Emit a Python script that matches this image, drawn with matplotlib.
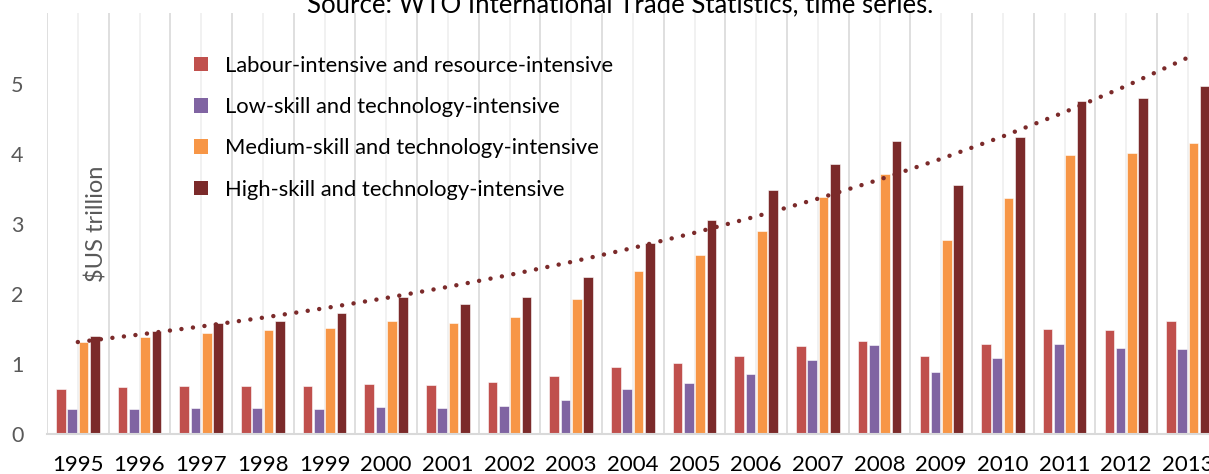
import numpy as np
import matplotlib
matplotlib.use("Agg")
from matplotlib import pyplot as plt
from matplotlib.patches import Patch

plt.rcParams['font.family'] = ['Lato', 'DejaVu Sans']

# values ($US trillion)
years = [1995, 1996, 1997, 1998, 1999, 2000, 2001, 2002, 2003, 2004,
         2005, 2006, 2007, 2008, 2009, 2010, 2011, 2012, 2013]
labour = [0.64, 0.67, 0.69, 0.68, 0.69, 0.72, 0.70, 0.74, 0.83, 0.95,
          1.01, 1.11, 1.25, 1.33, 1.12, 1.29, 1.50, 1.49, 1.62]
low_skill = [0.36, 0.36, 0.37, 0.37, 0.35, 0.39, 0.37, 0.40, 0.48, 0.64,
             0.73, 0.86, 1.06, 1.27, 0.88, 1.08, 1.28, 1.23, 1.21]
medium_skill = [1.31, 1.39, 1.44, 1.48, 1.51, 1.61, 1.58, 1.67, 1.93, 2.32,
                2.56, 2.90, 3.39, 3.71, 2.77, 3.37, 3.98, 4.01, 4.15]
high_skill = [1.40, 1.47, 1.59, 1.61, 1.73, 1.95, 1.85, 1.96, 2.24, 2.73,
              3.05, 3.49, 3.85, 4.18, 3.55, 4.24, 4.75, 4.79, 4.97]

series_names = ['Labour-intensive and resource-intensive',
                'Low-skill and technology-intensive',
                'Medium-skill and technology-intensive',
                'High-skill and technology-intensive']
series_colors = ['#C0504D', '#8064A2', '#F79646', '#7B2A2A']
series_values = [labour, low_skill, medium_skill, high_skill]

W, H = 1209, 474
cat_px = 61.67  # width of one year category in pixels
fig = plt.figure(figsize=(W / 100, H / 100), dpi=100)
# axes: left edge x=47, bottom y=434, top y=13; right runs past the figure edge
ax_w = cat_px * len(years)
ax = fig.add_axes([47 / W, 1 - 434 / H, ax_w / W, (434 - 13) / H])

x = np.arange(len(years))
step = 0.183
width = 0.155
for k, (name, vals, col) in enumerate(zip(series_names, series_values, series_colors)):
    ax.bar(x + (k - 1.5) * step, vals, width=width, color=col, label=name,
           edgecolor='white', linewidth=0.4, zorder=3)

# exponential trend of the high-skill series (as Excel does it)
b, a = np.polyfit(x, np.log(high_skill), 1)
trend = np.exp(a + b * x)
ax.plot(x, trend, color='#7B2A2A', linewidth=3.2, linestyle=(0, (0.01, 2.6)),
        dash_capstyle='round', zorder=4)

# vertical gridlines: category boundaries and centres
for i in range(len(years) + 1):
    ax.axvline(i - 0.5, color='#D9D9D9', linewidth=1.2, zorder=1)
for i in range(len(years)):
    ax.axvline(i, color='#EFEFEF', linewidth=1.2, zorder=1)

ax.set_xlim(-0.5, len(years) - 0.5)
ax.set_ylim(0, 6.01)
ax.set_yticks(range(0, 6))
ax.set_xticks(x)
ax.set_xticklabels([str(y) for y in years])
ax.tick_params(axis='x', length=0, pad=15, labelsize=16, labelcolor='black')
ax.tick_params(axis='y', length=0, pad=17, labelsize=15.5, labelcolor='#595959')
for s in ['top', 'right', 'left']:
    ax.spines[s].set_visible(False)
ax.spines['bottom'].set_color('#D9D9D9')
ax.spines['bottom'].set_linewidth(1.5)
ax.spines['bottom'].set_zorder(5)

ax.text((97 - 47) / cat_px - 0.5, 3.0, '$US trillion', rotation=90,
        ha='center', va='center', fontsize=17, color='#595959', zorder=6)

handles = [Patch(facecolor=c, edgecolor='none') for c in series_colors]
leg = ax.legend(handles, series_names, loc='upper left',
                bbox_to_anchor=((185 - 47) / ax_w, (434 - 47) / (434 - 13)),
                frameon=False, fontsize=15.8, handlelength=0.64, handleheight=0.64,
                handletextpad=0.78, labelspacing=0.97, borderaxespad=0)

fig.text(620 / W, 1 - 12 / H, 'Source: WTO International Trade Statistics, time series.',
         ha='center', va='baseline', fontsize=18.5, color='black')

fig.savefig('out.png', dpi=100)
